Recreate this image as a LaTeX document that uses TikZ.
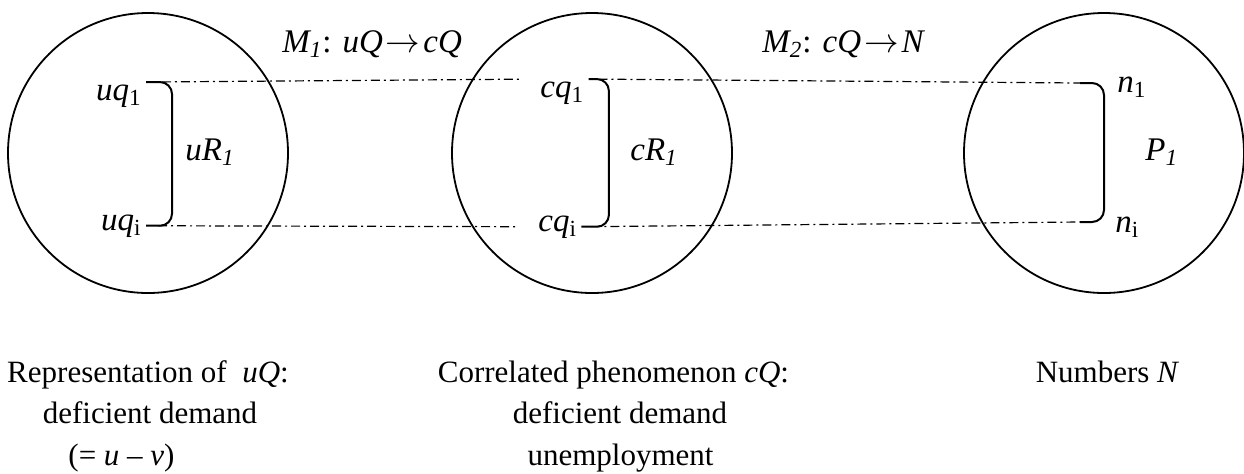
\documentclass[tikz,border=0pt]{standalone}
\usepackage{fontspec}
\setmainfont{Liberation Serif}
\usetikzlibrary{calc}
\begin{document}
\begin{tikzpicture}[x=0.5pt,y=-0.5pt,
  ring/.style={draw, circle, line width=0.9pt, minimum size=140pt, inner sep=0pt},
  lbl/.style={inner xsep=2pt, inner ysep=1pt, font=\fontsize{16.5}{19}\selectfont},
  captxt/.style={inner sep=0pt, anchor=base, font=\fontsize{15.5}{20.5}\selectfont},
  dd/.style={line width=0.6pt, dash pattern=on 4.5pt off 2pt on 1pt off 2pt},
  brk/.style={line width=1pt, rounded corners=6pt}]
\useasboundingbox (0,0) rectangle (1244,473);
% circles
\node[ring] (cu) at (148,153) {};
\node[ring] (cc) at (592,153) {};
\node[ring] (cn) at (1104,153) {};
% element labels
\node[lbl, anchor=base east] (uq1) at (146,100) {\textit{uq}\textsubscript{1}};
\node[lbl, anchor=base east] (uqi) at (146,230) {\textit{uq}\textsubscript{i}};
\node[lbl, anchor=base west] (cq1) at (536,97) {\textit{cq}\textsubscript{1}};
\node[lbl, anchor=base west] (cqi) at (534,231) {\textit{cq}\textsubscript{i}};
\node[lbl, anchor=base west] (n1) at (1113,92) {\textit{n}\textsubscript{1}};
\node[lbl, anchor=base west] (ni) at (1111,232) {\textit{n}\textsubscript{i}};
\node[lbl, anchor=base west] (uR) at (181,160) {\textit{uR\textsubscript{1}}};
\node[lbl, anchor=base west] (cR) at (626,160) {\textit{cR\textsubscript{1}}};
\node[lbl, anchor=base west] (P) at (1141,160) {\textit{P\textsubscript{1}}};
\node[lbl, anchor=base west] (m1) at (278,52) {\textit{M\textsubscript{1}}: \textit{uQ}\kern1.5pt$\rightarrow$\kern1.5pt\textit{cQ}};
\node[lbl, anchor=base west] (m2) at (758,52) {\textit{M\textsubscript{2}}: \textit{cQ}\kern1.5pt$\rightarrow$\kern1.5pt\textit{N}};
% free ends of the right-hand bracket
\coordinate (r1) at (1080,83);
\coordinate (ri) at (1080,222);
% mapping lines
\draw[dd, shorten <=8pt, shorten >=8pt] (uq1.north east) -- (cq1.north west);
\draw[dd, shorten <=6pt, shorten >=8pt] (uqi.east) -- (cqi.west);
\draw[dd, shorten <=5pt] (cq1.north east) -- (r1);
\draw[dd, shorten <=5pt] (cqi.east) -- (ri);
% brackets (relations)
\draw[brk] (uq1.north east) -| ($(uq1.north east)!.5!(uqi.east)+(26,0)$) |- (uqi.east);
\draw[brk] (cq1.north east) -| ($(cq1.north east)!.5!(cqi.east)+(24,0)$) |- (cqi.east);
\draw[brk] (r1) -| ($(r1)!.5!(ri)+(24,0)$) |- (ri);
% captions
\node[captxt] (t1) at (148,382) {Representation of \ \textit{uQ}:};
\node[captxt] (t2) at (150,423.5) {deficient demand};
\node[captxt] (t3) at (121.5,465) {(= \textit{u} – \textit{v})};
\node[captxt] (s1) at (613.5,382) {Correlated phenomenon \textit{cQ}:};
\node[captxt] (s2) at (620,423.5) {deficient demand};
\node[captxt] (s3) at (620.5,465) {unemployment};
\node[captxt] (k1) at (1107.5,382) {Numbers \textit{N}};
\end{tikzpicture}
\end{document}
